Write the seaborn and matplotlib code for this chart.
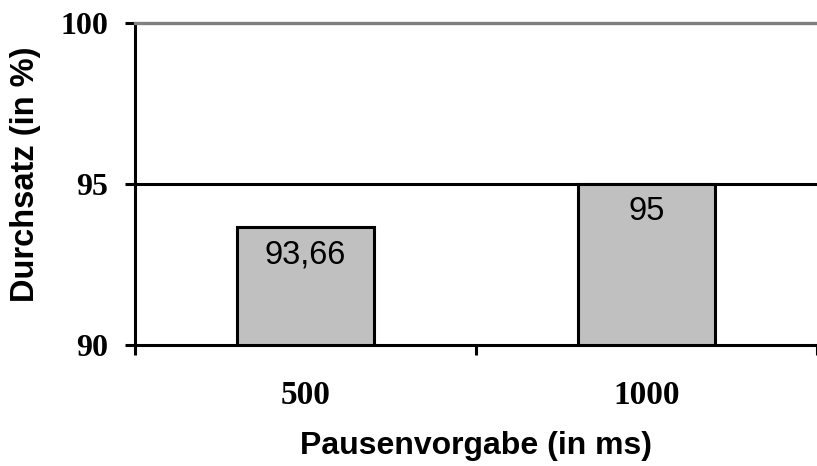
import matplotlib
matplotlib.use("Agg")
import matplotlib.pyplot as plt
import seaborn as sns
import pandas as pd

# Durchsatz je Pausenvorgabe
pausen = ["500", "1000"]
durchsatz = [93.66, 95.0]
beschriftung = ["93,66", "95"]
y_ticks = [90, 95, 100]

df = pd.DataFrame({"Pausenvorgabe": pausen, "Durchsatz": durchsatz})

sns.set_theme(style="white")
plt.rcParams["font.family"] = ["Liberation Sans", "DejaVu Sans"]
plt.rcParams["text.color"] = "black"
plt.rcParams["axes.labelcolor"] = "black"
plt.rcParams["xtick.color"] = "black"
plt.rcParams["ytick.color"] = "black"

fig = plt.figure(figsize=(8.17, 4.66), dpi=100)
ax = fig.add_axes([0.165, 0.26, 0.835, 0.69])

sns.barplot(data=df, x="Pausenvorgabe", y="Durchsatz", order=pausen,
            color="#C0C0C0", saturation=1, width=0.4,
            edgecolor="black", linewidth=2.2, ax=ax, zorder=3)

ax.set_ylim(90, 100)
ax.set_xlim(-0.5, 1.5)
ax.set_yticks(y_ticks)
ax.set_yticklabels([str(v) for v in y_ticks],
                   fontdict={"family": "Liberation Serif", "weight": "bold", "size": 23})

# Gitterlinie bei 95 und graue Linie oben
ax.axhline(95, color="black", lw=2.2, zorder=2)
ax.spines["right"].set_visible(False)
ax.spines["top"].set_color("#808080")
ax.spines["top"].set_linewidth(2.4)
ax.spines["left"].set_color("black")
ax.spines["left"].set_linewidth(2.2)
ax.spines["bottom"].set_color("black")
ax.spines["bottom"].set_linewidth(2.2)
ax.spines["bottom"].set_zorder(4)

# Kategoriegrenzen als Striche unten
ax.set_xticks([-0.5, 0.5, 1.5], minor=True)
ax.tick_params(axis="x", which="minor", direction="out", length=7, width=2.2,
               color="black", bottom=True)
ax.tick_params(axis="x", which="major", length=0, pad=25)
for lbl in ax.get_xticklabels():
    lbl.set_fontfamily("Liberation Serif")
    lbl.set_fontweight("bold")
    lbl.set_fontsize(24)
ax.tick_params(axis="y", direction="out", length=7, width=2.2, color="black",
               left=True, pad=12)

# Werte in den Balken
for i, (v, t) in enumerate(zip(durchsatz, beschriftung)):
    ax.annotate(t, xy=(i, v), xytext=(0, -12), textcoords="offset pixels",
                ha="center", va="top", fontsize=23.5, color="black",
                family="Liberation Sans", zorder=5)

ax.set_xlabel("Pausenvorgabe (in ms)", fontsize=23, fontweight="bold", labelpad=15)
ax.set_ylabel("Durchsatz (in %)", fontsize=23.5, fontweight="bold")
ax.yaxis.set_label_coords(-0.137, 0.53)

fig.savefig("out.png", dpi=100)
